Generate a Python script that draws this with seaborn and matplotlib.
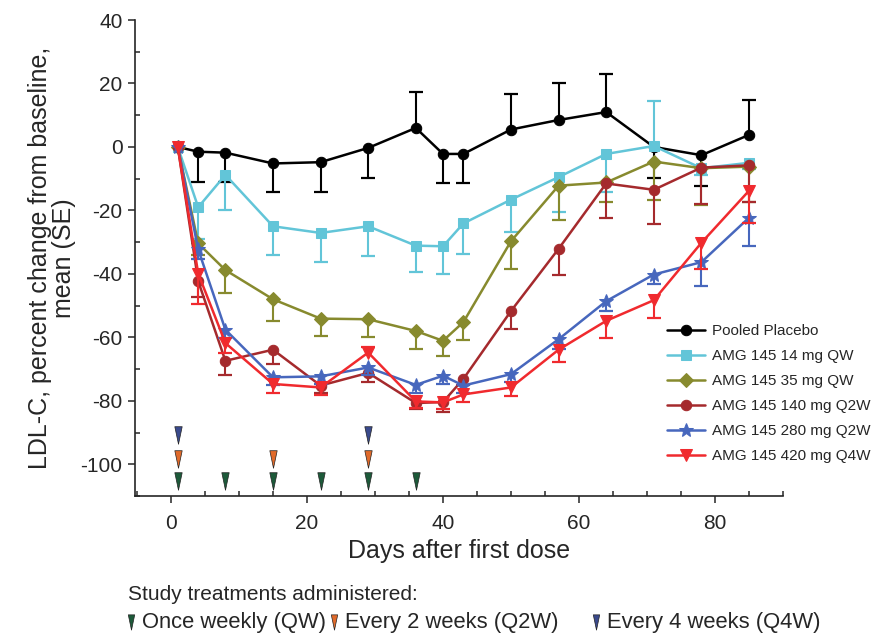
import matplotlib
matplotlib.use("Agg")
import matplotlib.pyplot as plt
import numpy as np
import pandas as pd
import seaborn as sns
from matplotlib.lines import Line2D
from matplotlib.path import Path as MPath
from matplotlib.ticker import MultipleLocator

# visit days (days after first dose)
days = [1, 4, 8, 15, 22, 29, 36, 40, 43, 50, 57, 64, 71, 78, 85]

series_names = [
    "Pooled Placebo",
    "AMG 145 14 mg QW",
    "AMG 145 35 mg QW",
    "AMG 145 140 mg Q2W",
    "AMG 145 280 mg Q2W",
    "AMG 145 420 mg Q4W",
]

placebo = [0, -1.5, -1.8, -5.2, -4.8, -0.3, 6.0, -2.2, -2.2, 5.5, 8.5, 11.0, 0.0, -2.6, 3.8]
placebo_lo = [0, 9.4, 9.2, 9.1, 9.5, 9.5, 0, 9.2, 9.2, 0, 0, 0, 9.8, 9.6, 0]
placebo_hi = [0, 0, 0, 0, 0, 0, 11.3, 0, 0, 11.3, 11.5, 11.9, 0, 0, 10.9]

qw14 = [0, -19.0, -8.8, -25.0, -27.1, -25.0, -31.1, -31.3, -24.1, -16.6, -9.5, -2.2, 0.3, -6.7, -5.0]
qw14_lo = [0, 10, 11, 9.2, 9.2, 9.5, 8.3, 8.6, 9.5, 10.3, 11, 12, 0, 2, 2]
qw14_hi = [0, 0, 0, 0, 0, 0, 0, 0, 0, 0, 0, 0, 14.2, 0, 0]

qw35 = [0, -30.4, -38.8, -48.0, -54.1, -54.3, -58.0, -61.1, -55.2, -29.7, -12.2, -11.2, -4.6, -6.7, -6.2]
qw35_lo = [0, 3.5, 7.3, 6.8, 5.4, 5.7, 5.7, 4.9, 5.5, 8.9, 10.7, 6, 12, 11.5, 11]

q2w140 = [0, -42.3, -67.4, -63.9, -75.2, -71.2, -80.7, -80.4, -73.1, -51.7, -32.1, -11.5, -13.5, -6.5, -5.8]
q2w140_lo = [0, 5, 4.5, 4.5, 2.5, 2.8, 2, 3, 2, 5.7, 8.4, 10.9, 10.7, 11.5, 11.5]

q2w280 = [0, -32.3, -57.6, -72.6, -72.3, -69.5, -75.0, -72.1, -75.2, -71.6, -60.6, -48.6, -40.2, -36.3, -22.3]
q2w280_lo = [0, 3, 2.5, 2.5, 2.5, 2.5, 2.5, 2.5, 2.5, 2.5, 3, 3, 3, 7.4, 9]

q4w420 = [0, -39.9, -61.8, -74.7, -75.8, -64.8, -80.2, -80.5, -78.0, -75.8, -63.9, -54.8, -48.3, -30.2, -13.8]
q4w420_lo = [0, 9.7, 3, 3, 2.5, 0, 2, 2, 2.5, 2.8, 3.9, 5.5, 5.7, 8.4, 10.2]
q4w420_hi = [0, 0, 0, 0, 0, 1.8, 0, 0, 0, 0, 0, 0, 0, 0, 0]

# dosing days for each regimen
qw_doses = [1, 8, 15, 22, 29, 36]
q2w_doses = [1, 15, 29]
q4w_doses = [1, 29]

colors = ["#000000", "#62c5d8", "#878a2e", "#a52a2d", "#4767bd", "#f02a2e"]
markers = ["o", "s", "D", "o", "*", "v"]
marker_sizes = [7.5, 6.5, 7, 7.5, 10.5, 8]
dose_colors = {"QW": "#1d5a3a", "Q2W": "#e06a2a", "Q4W": "#3a4a8c"}

# narrow downward triangle used for dosing markers
narrow_tri = MPath([(-0.42, 1.0), (0.42, 1.0), (0.0, -1.0), (-0.42, 1.0)],
                   [MPath.MOVETO, MPath.LINETO, MPath.LINETO, MPath.CLOSEPOLY])


def draw_one_sided_errors(ax, x, y, err, sign, color, zorder):
    x = np.asarray(x, dtype=float)
    y = np.asarray(y, dtype=float)
    err = np.asarray(err, dtype=float)
    keep = err > 0
    if not keep.any():
        return
    ends = y[keep] + sign * err[keep]
    ax.vlines(x[keep], y[keep], ends, colors=color, linewidth=1.5, zorder=zorder)
    ax.plot(x[keep], ends, linestyle="none", marker="_", markersize=10, markeredgewidth=1.6,
            color=color, zorder=zorder)


def main():
    sns.set_theme(style="ticks")
    plt.rcParams["font.family"] = ["Liberation Sans", "DejaVu Sans"]
    plt.rcParams["axes.unicode_minus"] = False

    fig = plt.figure(figsize=(8.92, 6.38), dpi=100)
    ax = fig.add_axes([0.1513, 0.2226, 0.7265, 0.746])

    values = [placebo, qw14, qw35, q2w140, q2w280, q4w420]
    lows = [placebo_lo, qw14_lo, qw35_lo, q2w140_lo, q2w280_lo, q4w420_lo]
    highs = [placebo_hi, qw14_hi, [0] * len(days), [0] * len(days), [0] * len(days), q4w420_hi]

    for i, name in enumerate(series_names):
        df = pd.DataFrame({"day": days, "value": values[i]})
        draw_one_sided_errors(ax, days, values[i], lows[i], -1, colors[i], 2 + i)
        draw_one_sided_errors(ax, days, values[i], highs[i], 1, colors[i], 2 + i)
        sns.lineplot(data=df, x="day", y="value", color=colors[i], marker=markers[i],
                     markersize=marker_sizes[i], markeredgecolor=colors[i], linewidth=1.8,
                     label=name, ax=ax, zorder=3 + i)

    rows = [("QW", qw_doses, -105.3), ("Q2W", q2w_doses, -98.3), ("Q4W", q4w_doses, -90.8)]
    for key, doses, ypos in rows:
        ax.scatter(doses, [ypos] * len(doses), marker=narrow_tri, s=160, color=dose_colors[key],
                   edgecolors="#222222", linewidths=0.5, clip_on=False, zorder=10)

    ax.set_xlim(-5.3, 90)
    ax.set_ylim(-110, 40)
    ax.xaxis.set_major_locator(MultipleLocator(20))
    ax.xaxis.set_minor_locator(MultipleLocator(5))
    ax.yaxis.set_minor_locator(MultipleLocator(10))
    ax.set_yticks([40, 20, 0, -20, -40, -60, -80, -100])
    ax.tick_params(which="major", direction="out", length=5, width=1.1, labelsize=15)
    ax.tick_params(axis="x", which="major", pad=8)
    ax.tick_params(axis="y", which="major", pad=4)
    ax.tick_params(which="minor", direction="in", length=3.5, width=1.1)
    for side in ["left", "bottom"]:
        ax.spines[side].set_linewidth(1.2)
    sns.despine(ax=ax)

    ax.set_xlabel("Days after first dose", fontsize=18, labelpad=4)
    ax.set_ylabel("LDL-C, percent change from baseline,\nmean (SE)", fontsize=18, labelpad=3,
                  linespacing=1.0)

    ax.legend(loc="upper left", bbox_to_anchor=(0.748, 0.492), bbox_transform=fig.transFigure,
              frameon=False, fontsize=11, handlelength=2.5, handletextpad=0.45,
              labelspacing=0.72, borderpad=0, borderaxespad=0)

    fig.text(0.1435, 0.068, "Study treatments administered:", fontsize=15, va="center", ha="left")
    key_items = [("QW", 0.147, "Once weekly (QW)"),
                 ("Q2W", 0.3745, "Every 2 weeks (Q2W)"),
                 ("Q4W", 0.668, "Every 4 weeks (Q4W)")]
    for key, xpos, text in key_items:
        fig.add_artist(Line2D([xpos], [0.025], marker=narrow_tri, markersize=11, linestyle="none",
                              color=dose_colors[key], markeredgecolor="#222222",
                              markeredgewidth=0.5, transform=fig.transFigure))
        fig.text(xpos + 0.012, 0.025, text, fontsize=15.8, va="center", ha="left")

    fig.savefig("out.png", dpi=100, facecolor="white")
    plt.close(fig)


if __name__ == "__main__":
    main()
